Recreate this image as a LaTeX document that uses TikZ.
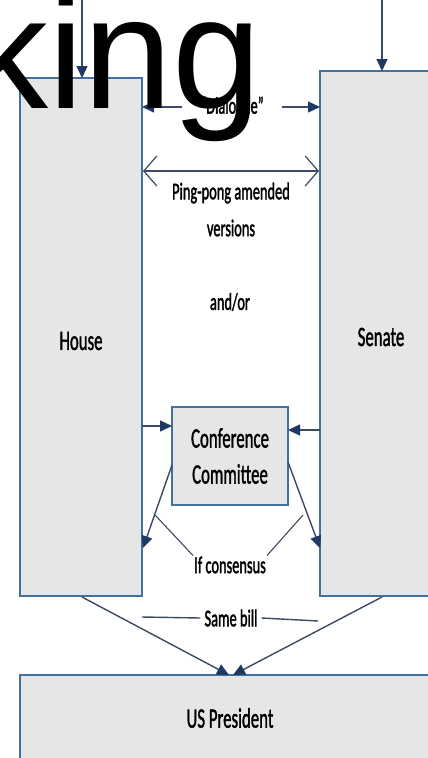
\documentclass[tikz,border=0pt]{standalone}
\usepackage{fontspec}
\usepackage{graphicx}
\usetikzlibrary{arrows.meta}
\newfontfamily\calfont{Carlito}
\setmainfont{Liberation Sans}
\newcommand{\sq}[1]{\scalebox{0.6}[1]{\special{pdf:literal direct 2 Tr 0.5 w}#1\special{pdf:literal direct 0 Tr}}}
\definecolor{boxfill}{HTML}{E6E6E6}
\definecolor{boxline}{HTML}{41719C}
\definecolor{conline}{HTML}{3B4A60}
\definecolor{headcol}{HTML}{1F3864}
\tikzset{
  chamber/.style={draw=boxline,line width=2.2pt,fill=boxfill},
  lbl/.style={font=\calfont\fontsize{24}{26}\selectfont,text=black,inner sep=1pt},
  biglbl/.style={font=\calfont\fontsize{28}{30}\selectfont,text=black,inner sep=1pt},
  conn/.style={draw=conline,line width=1.4pt},
  fhead/.style={-{Triangle[length=12pt,width=11pt,fill=headcol,color=headcol]}},
  ohead/.style={{Straight Barb[length=13pt,width=30pt,line width=1.2pt]}-{Straight Barb[length=13pt,width=30pt,line width=1.2pt]}}
}
\begin{document}
\begin{tikzpicture}[x=1pt,y=-1pt]
\useasboundingbox (0,0) rectangle (428,758);
\fill[white] (0,0) rectangle (428,758);
% boxes
\path[chamber] (20,78) rectangle (142,596);
\path[chamber] (320,71) rectangle (440,596);
\path[chamber] (20,675) rectangle (440,770);
\path[chamber] (172,407) rectangle (288,505);
\node[biglbl] (house) at (81,341) {\sq{House}};
\node[biglbl] (senate) at (381,337) {\sq{Senate}};
\node[biglbl] (pres) at (230,718) {\sq{US President}};
\node[biglbl,align=center] (conf) at (230,456) {\sq{Conference}\\[6pt]\sq{Committee}};
% incoming arrows
\coordinate (hin0) at (82,-5);
\coordinate (hin1) at (82,78);
\coordinate (sin0) at (382,-5);
\coordinate (sin1) at (382,71);
\draw[conn,fhead] (hin0) -- (hin1);
\draw[conn,fhead] (sin0) -- (sin1);
% dialogue
\node[lbl,inner xsep=18pt] (dia) at (232,107) {\sq{“Dialogue”}};
\coordinate (d1) at (142,107);
\coordinate (d2) at (320,107);
\draw[conn,fhead] (dia.west) -- (d1);
\draw[conn,fhead] (dia.east) -- (d2);
% ping-pong
\coordinate (p1) at (143,171);
\coordinate (p2) at (319,171);
\draw[conn,ohead] (p1) -- (p2);
\node[lbl] (pp) at (231,193) {\sq{Ping-pong amended}};
\node[lbl] (ver) at (231,228) {\sq{versions}};
\node[lbl] (andor) at (230,302) {\sq{and/or}};
% into conference
\coordinate (hc) at (142,426);
\coordinate (cl) at (172,426);
\coordinate (sc) at (320,430);
\coordinate (cr) at (288,430);
\draw[conn,fhead] (hc) -- (cl);
\draw[conn,fhead] (sc) -- (cr);
% back from conference
\coordinate (cbl) at (172,465);
\coordinate (hb) at (143,548);
\coordinate (cbr) at (288,462);
\coordinate (sb) at (320,548);
\draw[conn,fhead] (cbl) -- (hb);
\draw[conn,fhead] (cbr) -- (sb);
\node[lbl] (cons) at (230,565) {\sq{If consensus}};
\coordinate (k1) at (155,515);
\coordinate (k2) at (303,515);
\draw[conn,line width=1.1pt] (k1) -- (cons.north west);
\draw[conn,line width=1.1pt] (k2) -- (cons.north east);
% same bill
\node[lbl,inner xsep=4pt] (same) at (231,618) {\sq{Same bill}};
\coordinate (s1) at (142,617);
\coordinate (s2) at (318,621);
\draw[conn] (s1) -- (same.west);
\draw[conn] (same.east) -- (s2);
% to president
\coordinate (hbot) at (82,597);
\coordinate (sbot) at (382,597);
\coordinate (t1) at (229,675);
\coordinate (t2) at (233,675);
\draw[conn,fhead] (hbot) -- (t1);
\draw[conn,fhead] (sbot) -- (t2);
% overlaid title fragment
\node[anchor=base east,inner sep=0pt,font=\fontsize{160}{160}\selectfont] (king) at (262,108) {king};
\end{tikzpicture}
\end{document}
